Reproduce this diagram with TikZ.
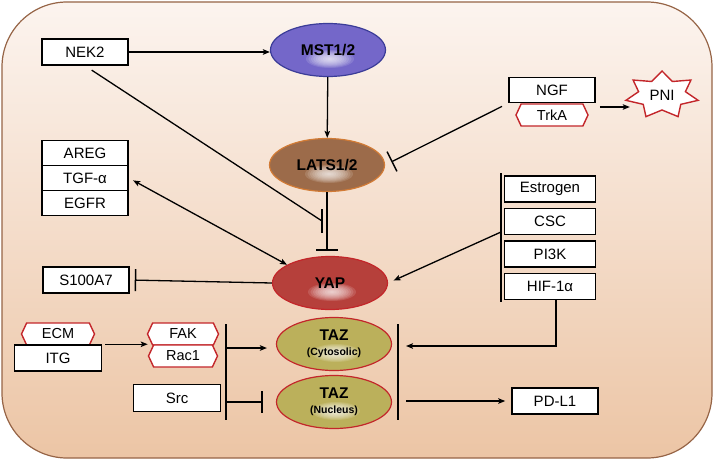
\documentclass[tikz,border=0pt]{standalone}
\usepackage{fontspec}
\setmainfont{Liberation Sans}
\usetikzlibrary{shapes,positioning,calc,arrows.meta}

\definecolor{cellrim}{HTML}{966446}
\definecolor{celltop}{HTML}{FCF4EF}
\definecolor{cellmid}{HTML}{F2D8C4}
\definecolor{cellbot}{HTML}{ECC5A5}
\definecolor{mstfill}{HTML}{7467C9}
\definecolor{mstrim}{HTML}{3B3C98}
\definecolor{latsfill}{HTML}{9C6B4A}
\definecolor{latsrim}{HTML}{D27B35}
\definecolor{yapfill}{HTML}{B6403B}
\definecolor{tazfill}{HTML}{BBB05B}
\definecolor{redrim}{HTML}{C3262A}
\newcommand{\loc}[1]{{\bfseries\fontsize{10.5}{12}\selectfont #1}}

\begin{document}
\begin{tikzpicture}[x=1pt, y=-1pt,
    box/.style={draw, line width=1.5pt, fill=white, minimum width=86pt, minimum height=26pt,
        inner sep=0pt, font=\fontsize{15}{17}\selectfont},
    hexbox/.style={draw=redrim, line width=1.4pt, fill=white, signal, signal to=west and east,
        signal pointer angle=130, minimum width=72pt, minimum height=22pt, inner sep=0pt,
        font=\fontsize{14.5}{16}\selectfont},
    prot/.style={ellipse, draw, line width=1.2pt, minimum width=115pt, minimum height=53pt,
        inner sep=2pt, align=center, font=\bfseries\fontsize{15.5}{17}\selectfont,
        path picture={\foreach \s in {1,...,10}
            \fill[white, opacity=0.13]
            ([xshift=2pt,yshift=-9pt]path picture bounding box.center)
            ellipse [x radius=2.4pt*\s, y radius=0.9pt*\s];}},
    act/.style={line width=1.3pt, -{Stealth[length=7pt,width=5.5pt,inset=1.5pt]}},
    both/.style={line width=1.3pt, {Stealth[length=7pt,width=5.5pt,inset=1.5pt]}-{Stealth[length=7pt,width=5.5pt,inset=1.5pt]}},
    inh/.style={line width=1.3pt, -{Bar[width=22pt,line width=1.5pt]}},
    hub/.style={line width=1.8pt}
]
    \useasboundingbox (0,0) rectangle (714,460);
    % cell body
    \shade[top color=celltop, middle color=cellmid, bottom color=cellbot, draw=cellrim,
        line width=1.2pt, rounded corners=65pt] (2,2) rectangle (712,458);

    % core Hippo cascade
    \node[prot, fill=mstfill, draw=mstrim] (mst) at (328,50) {MST1/2};
    \node[prot, fill=latsfill, draw=latsrim] (lats) at (327,165) {LATS1/2};
    \node[prot, fill=yapfill, draw=redrim] (yap) at (330,283) {YAP};
    \node[prot, fill=tazfill, draw=redrim] (tazc) at (334,344) {TAZ\\[-2pt]\loc{(Cytosolic)}};
    \node[prot, fill=tazfill, draw=redrim] (tazn) at (334,402) {TAZ\\[-2pt]\loc{(Nucleus)}};

    % upstream and downstream factors
    \node[box] (nek) at (85,52) {NEK2};
    \foreach \name/\txt [count=\i] in {areg/AREG, tgfa/TGF-α, egfr/EGFR}
        \node[box, minimum height=25pt] (\name) at (85,153+\i*25-25) {\txt};
    \node[box] (s100) at (86,280) {S100A7};
    \node[box, minimum height=25pt] (ngf) at (552,90) {NGF};
    \node[hexbox] (trka) at (552,115) {TrkA};
    \foreach \name/\txt [count=\i] in {estr/Estrogen, csc/CSC, pik/PI3K, hif/HIF-1α}
        \node[box, minimum width=91pt] (\name) at (550,189+\i*32.5-32.5) {\txt};
    \node[box] (pdl) at (555,401) {PD-L1};
    \node[hexbox, minimum width=73pt] (ecm) at (58,334) {ECM};
    \node[box, minimum width=87pt] (itg) at (58,358) {ITG};
    \node[hexbox, minimum width=71pt] (fak) at (183,334) {FAK};
    \node[hexbox, minimum width=69pt] (rac) at (183,356) {Rac1};
    \node[box, minimum width=87pt, minimum height=27pt] (src) at (177,398) {Src};

    % PNI star
    \draw[draw=redrim, line width=1.4pt, fill=white]
        plot[samples at={0,...,13}, variable=\k]
        ({662+ifthenelse(mod(\k,2)==0,37,24)*cos(-90+\k*360/14)},
         {95+ifthenelse(mod(\k,2)==0,24,15)*sin(-90+\k*360/14)}) -- cycle;
    \node[minimum width=64pt, font=\fontsize{15}{17}\selectfont] (pni) at (662,95) {PNI};

    % junction bars
    \coordinate (lhubtop) at (226,324);
    \coordinate (lhubbot) at (226,420);
    \coordinate (lhubc) at (226,348);
    \coordinate (lhubn) at (226,402);
    \coordinate (rhubtop) at (398,324);
    \coordinate (rhubbot) at (398,420);
    \coordinate (rhubc) at (398,346);
    \coordinate (rhubn) at (398,401);
    \coordinate (ehubtop) at (501,173);
    \coordinate (ehubbot) at (501,302);
    \coordinate (ehub) at (501,232);
    \coordinate (nekhit) at (322,221);
    \draw[hub] (lhubtop) -- (lhubbot);
    \draw[hub] (rhubtop) -- (rhubbot);
    \draw[hub] (ehubtop) -- (ehubbot);

    % connectors
    \draw[act] (nek.east) -- (nek.east -| mst.west);
    \draw[act] (mst) -- (lats);
    \draw[inh, shorten >=5pt] (lats.south) -- (lats.south |- yap.north);
    \draw[line width=1.3pt, shorten <=8pt] (nek.south) -- (nekhit);
    \draw[line width=1.5pt] ([yshift=12pt]nekhit) -- ([yshift=-12pt]nekhit);
    \draw[both, shorten <=5pt] (tgfa.east) -- (yap.157);
    \draw[inh, shorten >=5pt] (yap.west) -- (s100.east);
    \draw[inh, shorten <=7pt, shorten >=7pt] (ngf.south west) -- (lats.east);
    \draw[act, shorten <=11pt] ([yshift=8pt]trka.east) -- ([yshift=8pt]trka.east -| pni.west);
    \draw[act, shorten >=6pt] (ehub) -- (yap.east);
    \draw[act, shorten >=8pt] ([xshift=6pt]hif.south) |- (rhubc);
    \draw[act, shorten <=8pt, shorten >=6pt] (rhubn) -- (pdl.west);
    \draw[act, shorten <=3pt] (itg.north east) -- (itg.north east -| rac.west);
    \draw[act, shorten >=9pt] (lhubc) -- (lhubc -| tazc.west);
    \draw[inh, shorten >=13pt] (lhubn) -- (lhubn -| tazn.west);
\end{tikzpicture}
\end{document}
